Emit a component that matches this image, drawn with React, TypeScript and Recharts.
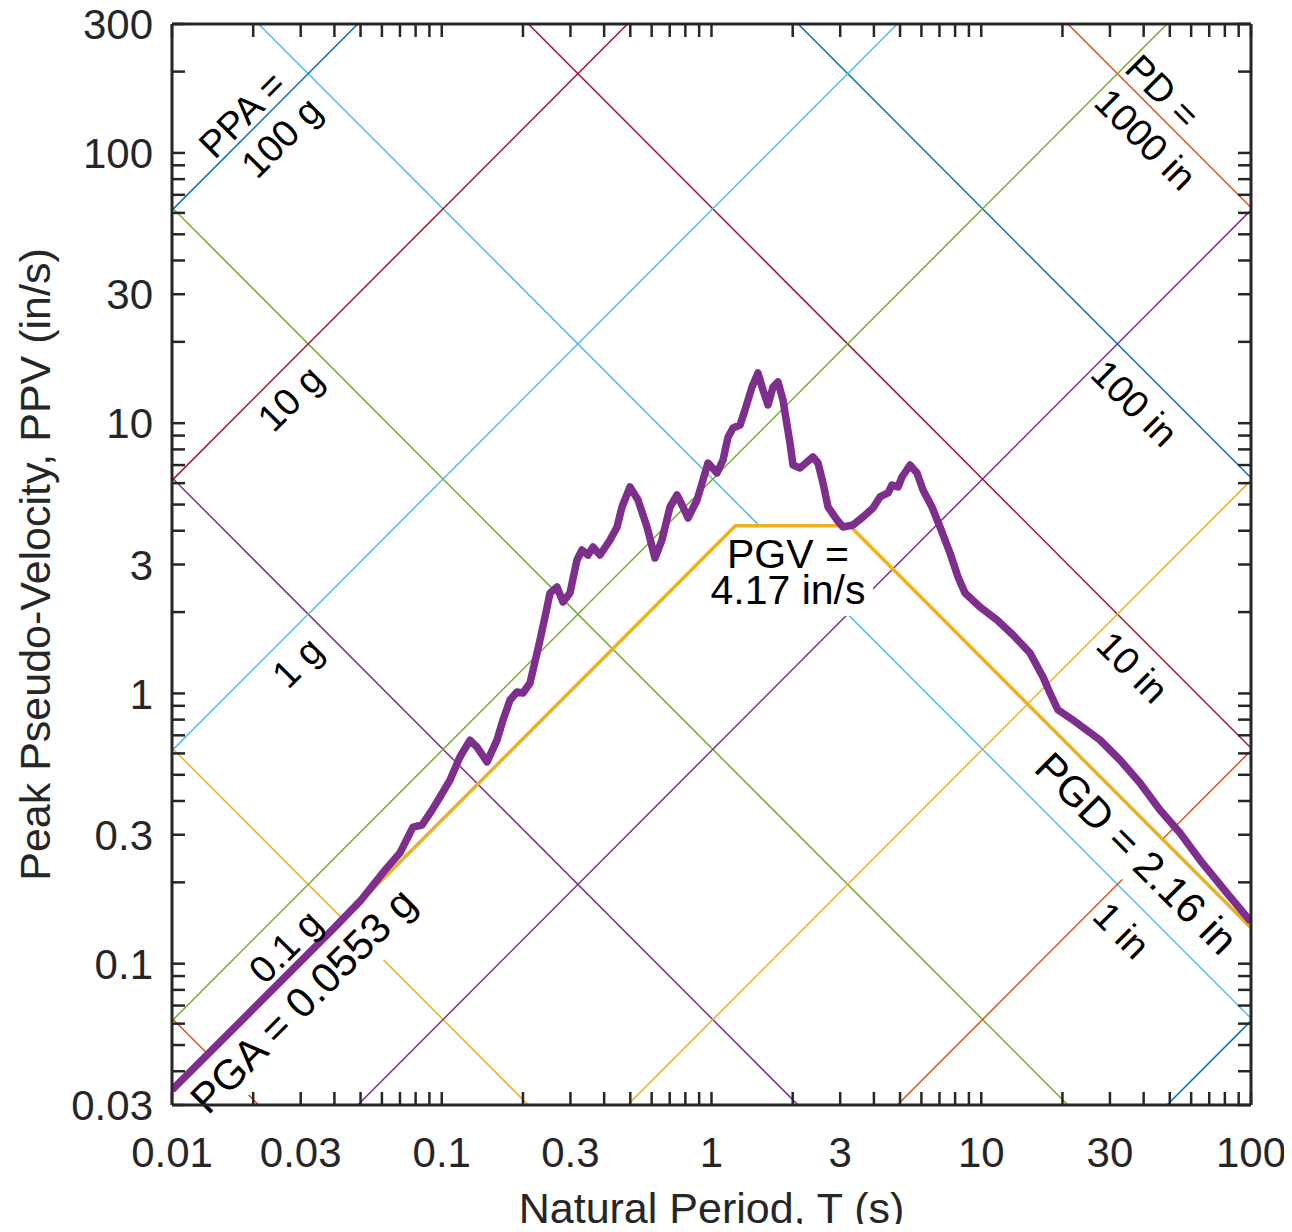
import React from 'react';
import { ComposedChart, Line, XAxis, YAxis, ReferenceDot } from 'recharts';

const FONT = '"Liberation Sans", Arial, Helvetica, sans-serif';
const INK = '#262626';
const G = 386.09; // in/s^2

// axes
const T_DOMAIN = [0.01, 100];
const V_DOMAIN = [0.03, 300];
const T_LABELS = [0.01, 0.03, 0.1, 0.3, 1, 3, 10, 30, 100];
const V_LABELS = [0.03, 0.1, 0.3, 1, 3, 10, 30, 100, 300];

// tripartite guide lines
const PD_LEVELS = [1e-4, 1e-3, 0.01, 0.1, 1, 10, 100, 1000]; // in
const PD_COLORS = ['#D95319', '#EDB120', '#7E2F8E', '#77AC30', '#4DBEEE', '#A2142F', '#0072BD', '#D95319'];
const PPA_LEVELS = [1e-5, 1e-4, 1e-3, 0.01, 0.1, 1, 10, 100]; // g
const PPA_COLORS = ['#0072BD', '#D95319', '#EDB120', '#7E2F8E', '#77AC30', '#4DBEEE', '#A2142F', '#0072BD'];

// peak ground motion
const PGA = 0.0553; // g
const PGV = 4.17; // in/s
const PGD = 2.16; // in

// response spectrum
const SPEC_T = [
  0.01, 0.02, 0.03, 0.04, 0.05, 0.0616, 0.07, 0.0782, 0.0845, 0.092, 0.0985, 0.1073, 0.1168, 0.1273,
  0.1351, 0.1472, 0.1602, 0.1687, 0.1791, 0.1901, 0.2001, 0.2124, 0.2255, 0.2313, 0.2414, 0.252,
  0.2675, 0.2816, 0.2988, 0.3172, 0.3311, 0.3485, 0.3637, 0.3861, 0.4205, 0.4465, 0.4659, 0.4988,
  0.5341, 0.5767, 0.6172, 0.6552, 0.7017, 0.745, 0.7841, 0.8185, 0.8836, 0.9301, 0.9705, 1.048,
  1.103, 1.152, 1.202, 1.276, 1.331, 1.413, 1.487, 1.552, 1.62, 1.69, 1.764, 1.841, 1.954, 2.005,
  2.129, 2.259, 2.378, 2.482, 2.59, 2.704, 2.92, 3.073, 3.346, 3.644, 3.97, 4.214, 4.512, 4.669,
  4.914, 5.085, 5.445, 5.779, 6.083, 6.566, 7.032, 7.66, 8.201, 8.706, 9.895, 11.44, 13.12, 15.16,
  16.94, 17.98, 19.25, 21.88, 27.55, 32.69, 38.78, 45.99, 54.57, 64.72, 81.47, 100,
];
const SPEC_PSV = [
  0.0341, 0.068, 0.102, 0.136, 0.171, 0.222, 0.257, 0.32, 0.326, 0.37, 0.414, 0.478, 0.582, 0.672,
  0.633, 0.558, 0.672, 0.798, 0.946, 1.012, 1.004, 1.093, 1.411, 1.577, 1.918, 2.353,
  2.476, 2.179, 2.353, 3.116, 3.394, 3.253, 3.483, 3.253, 3.697, 4.129, 4.897, 5.806,
  5.196, 4.129, 3.17, 3.697, 4.897, 5.424, 4.897, 4.459, 5.196, 6.164, 7.124, 6.541,
  7.308, 8.889, 9.599, 9.847, 11.19, 13.61, 15.34, 13.27, 11.68, 13.61, 14.21, 12.18, 8.445, 7.003,
  6.826, 7.184, 7.497, 7.124, 6.008, 4.897, 4.383, 4.129, 4.201, 4.497, 4.857, 5.333, 5.518, 5.906,
  5.806, 6.322, 7.003, 6.541, 5.66, 4.897, 4.129, 3.309, 2.697, 2.353, 2.088, 1.869, 1.645, 1.411,
  1.15, 1.004, 0.8685, 0.7975, 0.6724, 0.5672, 0.4662, 0.3704, 0.3045, 0.2419, 0.1826, 0.1427,
];

const spectrum = SPEC_T.map((T, i) => ({ T, v: SPEC_PSV[i] }));

const pdLine = (d: number) => {
  const c = 2 * Math.PI * d;
  const t0 = Math.max(T_DOMAIN[0], c / V_DOMAIN[1]);
  const t1 = Math.min(T_DOMAIN[1], c / V_DOMAIN[0]);
  return [{ T: t0, v: c / t0 }, { T: t1, v: c / t1 }];
};
const ppaLine = (a: number) => {
  const k = (a * G) / (2 * Math.PI);
  const t0 = Math.max(T_DOMAIN[0], V_DOMAIN[0] / k);
  const t1 = Math.min(T_DOMAIN[1], V_DOMAIN[1] / k);
  return [{ T: t0, v: k * t0 }, { T: t1, v: k * t1 }];
};

const kA = (PGA * G) / (2 * Math.PI);
const pgLine = [
  { T: T_DOMAIN[0], v: kA * T_DOMAIN[0] },
  { T: PGV / kA, v: PGV },
  { T: (2 * Math.PI * PGD) / PGV, v: PGV },
  { T: T_DOMAIN[1], v: (2 * Math.PI * PGD) / T_DOMAIN[1] },
];

const logTicks = (lo: number, hi: number) => {
  const out: number[] = [];
  for (let e = -3; e <= 3; e++)
    for (let m = 1; m <= 9; m++) {
      const t = Number((m * 10 ** e).toPrecision(6));
      if (t >= lo * 0.999 && t <= hi * 1.001) out.push(t);
    }
  return out;
};
const X_TICKS = logTicks(T_DOMAIN[0], T_DOMAIN[1]);
const Y_TICKS = logTicks(V_DOMAIN[0], V_DOMAIN[1]);
const isMajor = (list: number[], v: number) => list.some((m) => Math.abs(m - v) / m < 1e-6);

const TICK = 13;
const tickFor = (side: 'bottom' | 'top' | 'left' | 'right') => (p: any) => {
  const { x, y } = p;
  const v = p.payload.value;
  if (side === 'bottom' || side === 'top') {
    const dir = side === 'bottom' ? -1 : 1;
    return (
      <g>
        <line x1={x} x2={x} y1={y} y2={y + dir * TICK} stroke={INK} strokeWidth={2.5} />
        {side === 'bottom' && isMajor(T_LABELS, v) && (
          <text x={x} y={y + 62} textAnchor="middle" fontSize={42} fill={INK} fontFamily={FONT}>
            {String(v)}
          </text>
        )}
      </g>
    );
  }
  const dir = side === 'left' ? 1 : -1;
  return (
    <g>
      <line x1={x} x2={x + dir * TICK} y1={y} y2={y} stroke={INK} strokeWidth={2.5} />
      {side === 'left' && isMajor(V_LABELS, v) && (
        <text x={x - 19} y={y} dy="0.36em" textAnchor="end" fontSize={42} fill={INK} fontFamily={FONT}>
          {String(v)}
        </text>
      )}
    </g>
  );
};

type Note = { T: number; v: number; text: string[]; angle: number; size: number; gap?: number; box?: [number, number] };

const PG_NOTES: Note[] = [
  { T: 0.03047, v: 0.07338, text: ['PGA = 0.0553 g'], angle: -45, size: 42, box: [306, 58] },
  { T: 1.921, v: 2.839, text: ['PGV =', '4.17 in/s'], angle: 0, size: 41, gap: 36, box: [170, 90] },
  { T: 37.79, v: 0.2568, text: ['PGD = 2.16 in'], angle: 45, size: 42, box: [272, 58] },
];

const GUIDE_NOTES: Note[] = [
  { T: 0.01813, v: 139.3, text: ['PPA ='], angle: -45, size: 38 },
  { T: 0.02536, v: 114.6, text: ['100 g'], angle: -45, size: 38 },
  { T: 0.02738, v: 12.4, text: ['10 g'], angle: -45, size: 38 },
  { T: 0.02907, v: 1.307, text: ['1 g'], angle: -45, size: 38 },
  { T: 0.02624, v: 0.1162, text: ['0.1 g'], angle: -45, size: 38 },
  { T: 47.18, v: 169.5, text: ['PD ='], angle: 45, size: 38 },
  { T: 40.81, v: 112.6, text: ['1000 in'], angle: 45, size: 38 },
  { T: 37.15, v: 11.88, text: ['100 in'], angle: 45, size: 38 },
  { T: 36.52, v: 1.253, text: ['10 in'], angle: 45, size: 38 },
  { T: 33.25, v: 0.1332, text: ['1 in'], angle: 45, size: 38 },
];

const noteShape = (n: Note) => (p: any) => {
  const { cx, cy } = p;
  const gap = n.gap ?? 0;
  const h = (n.text.length - 1) * gap;
  return (
    <g transform={`rotate(${n.angle} ${cx} ${cy})`}>
      {n.box && (
        <rect x={cx - n.box[0] / 2} y={cy - n.box[1] / 2} width={n.box[0]} height={n.box[1]} fill="#ffffff" />
      )}
      <text textAnchor="middle" fontSize={n.size} fill="#000000" fontFamily={FONT}>
        {n.text.map((s, i) => (
          <tspan key={i} x={cx} y={cy - h / 2 + i * gap} dy="0.36em">
            {s}
          </tspan>
        ))}
      </text>
    </g>
  );
};

const xTitle = (p: any) => {
  const vb = p.viewBox;
  return (
    <text x={vb.x + vb.width / 2} y={vb.y + 118} textAnchor="middle" fontSize={43} fill={INK} fontFamily={FONT}>
      Natural Period, T (s)
    </text>
  );
};
const yTitle = (p: any) => {
  const vb = p.viewBox;
  const x = vb.x + 28;
  const y = vb.y + vb.height / 2;
  return (
    <text x={x} y={y} transform={`rotate(-90 ${x} ${y})`} textAnchor="middle" fontSize={43} fill={INK} fontFamily={FONT}>
      Peak Pseudo-Velocity, PPV (in/s)
    </text>
  );
};

const axisLine = { stroke: INK, strokeWidth: 3 };

export default function App() {
  return (
    <div style={{ width: 1292, height: 1232, margin: -8, background: '#ffffff' }}>
      <ComposedChart width={1292} height={1232} margin={{ top: 23, right: 40, bottom: 2, left: 22 }}>
        <XAxis
          xAxisId="b"
          dataKey="T"
          type="number"
          scale="log"
          domain={T_DOMAIN}
          allowDataOverflow
          ticks={X_TICKS}
          interval={0}
          tickSize={0}
          tickMargin={0}
          tickLine={false}
          tick={tickFor('bottom')}
          axisLine={axisLine}
          height={125}
          label={xTitle}
        />
        <XAxis
          xAxisId="t"
          orientation="top"
          dataKey="T"
          type="number"
          scale="log"
          domain={T_DOMAIN}
          allowDataOverflow
          ticks={X_TICKS}
          interval={0}
          tickSize={0}
          tickMargin={0}
          tickLine={false}
          tick={tickFor('top')}
          axisLine={axisLine}
          height={1}
        />
        <YAxis
          yAxisId="l"
          type="number"
          scale="log"
          domain={V_DOMAIN}
          allowDataOverflow
          ticks={Y_TICKS}
          interval={0}
          tickSize={0}
          tickMargin={0}
          tickLine={false}
          tick={tickFor('left')}
          axisLine={axisLine}
          width={150}
          label={yTitle}
        />
        <YAxis
          yAxisId="r"
          orientation="right"
          type="number"
          scale="log"
          domain={V_DOMAIN}
          allowDataOverflow
          ticks={Y_TICKS}
          interval={0}
          tickSize={0}
          tickMargin={0}
          tickLine={false}
          tick={tickFor('right')}
          axisLine={axisLine}
          width={1}
        />

        {PD_LEVELS.map((d, i) => (
          <Line
            key={`pd-${d}`}
            xAxisId="b"
            yAxisId="l"
            data={pdLine(d)}
            dataKey="v"
            stroke={PD_COLORS[i]}
            strokeWidth={1.5}
            dot={false}
            activeDot={false}
            isAnimationActive={false}
            zIndex={400}
          />
        ))}
        {PPA_LEVELS.map((a, i) => (
          <Line
            key={`ppa-${a}`}
            xAxisId="b"
            yAxisId="l"
            data={ppaLine(a)}
            dataKey="v"
            stroke={PPA_COLORS[i]}
            strokeWidth={1.5}
            dot={false}
            activeDot={false}
            isAnimationActive={false}
            zIndex={400}
          />
        ))}

        {PG_NOTES.map((n) => (
          <ReferenceDot
            key={n.text[0]}
            xAxisId="b"
            yAxisId="l"
            x={n.T}
            y={n.v}
            r={0}
            ifOverflow="visible"
            shape={noteShape(n)}
            zIndex={410}
          />
        ))}

        <Line
          xAxisId="b"
          yAxisId="l"
          data={pgLine}
          dataKey="v"
          stroke="#EDB120"
          strokeWidth={3.5}
          dot={false}
          activeDot={false}
          isAnimationActive={false}
          zIndex={420}
        />
        <Line
          xAxisId="b"
          yAxisId="l"
          data={spectrum}
          dataKey="v"
          stroke="#7E2F8E"
          strokeWidth={7.5}
          strokeLinejoin="round"
          dot={false}
          activeDot={false}
          isAnimationActive={false}
          zIndex={430}
        />

        {GUIDE_NOTES.map((n) => (
          <ReferenceDot
            key={n.text[0]}
            xAxisId="b"
            yAxisId="l"
            x={n.T}
            y={n.v}
            r={0}
            ifOverflow="visible"
            shape={noteShape(n)}
            zIndex={440}
          />
        ))}
      </ComposedChart>
    </div>
  );
}
